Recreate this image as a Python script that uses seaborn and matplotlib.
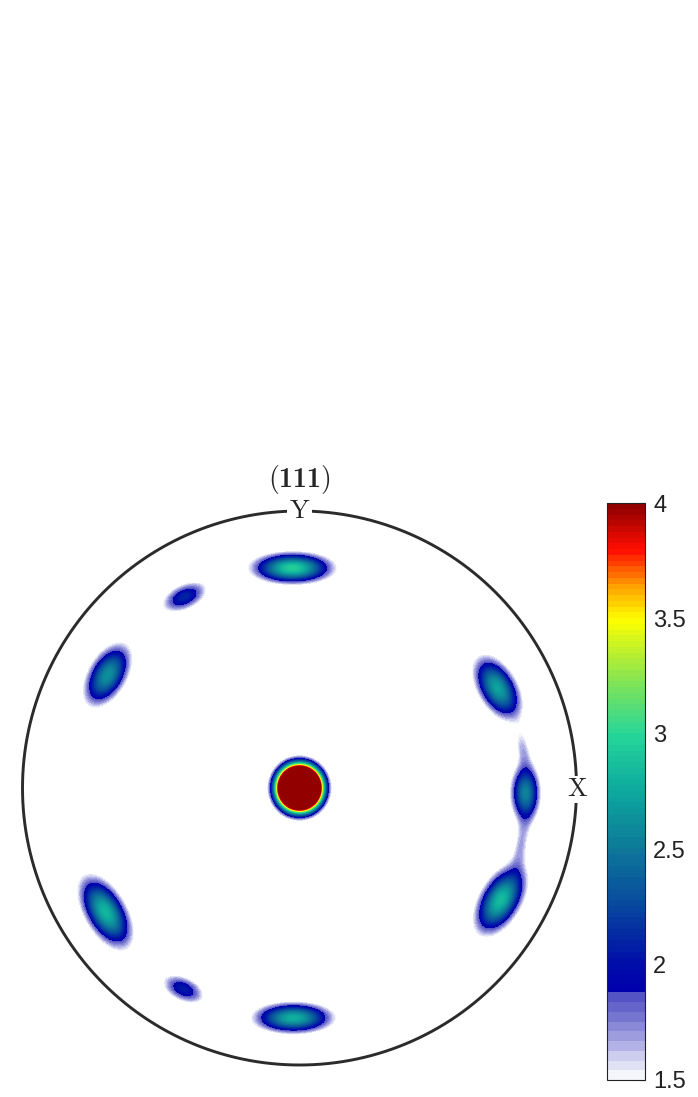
"""
(111) pole figure with a stepped jet-like colour scale.
Spots are kept as small parameter lists; the density is evaluated on a grid.
"""

import numpy as np
import matplotlib
matplotlib.use("Agg")
import matplotlib.pyplot as plt
from matplotlib.colors import LinearSegmentedColormap
import seaborn as sns

# ---------------------------------------------------------------------------
# Data (unit-disk coordinates of the pole figure)
# ---------------------------------------------------------------------------
SPOT_X    = [-0.025, -0.415, -0.693, 0.715, 0.816, 0.726, -0.700, -0.419, -0.022, 0.000, 0.800, 0.805]
SPOT_Y    = [ 0.794,  0.690,  0.408, 0.361, -0.018, -0.404, -0.448, -0.726, -0.830, 0.000, -0.200, 0.150]
SPOT_PEAK = [ 2.95,   2.10,   2.62,  2.72,  2.55,   2.85,   2.82,   2.05,   2.78,  12.6,   1.52,  1.50]
SPOT_SMAJ = [ 0.097,  0.066,  0.085, 0.085, 0.074,  0.092,  0.096,  0.062,  0.096, 0.046,  0.060, 0.050]
SPOT_SMIN = [ 0.037,  0.034,  0.046, 0.046, 0.037,  0.048,  0.048,  0.033,  0.037, 0.047,  0.020, 0.020]
SPOT_ANG  = [ 0,      25,     60,    -60,   90,     60,     -60,    -25,    0,     0,      80,    100]
BACKGROUND = 1.0

VMIN, VMAX = 1.5, 4.0
CBAR_TICKS = [1.5, 2, 2.5, 3, 3.5, 4]
TITLE      = r"$(\mathbf{111})$"
AXIS_NAMES = ["X", "Y"]

# colour scale nodes (value, rgb)
CMAP_VALUES = [1.50, 1.60, 1.70, 1.87, 1.88, 2.00, 2.25, 2.50, 2.75, 3.00, 3.25, 3.50, 3.65, 3.80, 4.00]
CMAP_COLORS = [(1.00, 1.00, 1.00), (0.80, 0.80, 0.94), (0.58, 0.58, 0.86), (0.30, 0.30, 0.76),
               (0.00, 0.00, 0.68), (0.00, 0.05, 0.66), (0.03, 0.28, 0.62), (0.05, 0.47, 0.60),
               (0.05, 0.66, 0.62), (0.15, 0.84, 0.60), (0.55, 0.90, 0.30), (1.00, 1.00, 0.00),
               (1.00, 0.60, 0.00), (1.00, 0.05, 0.00), (0.55, 0.00, 0.00)]


# ---------------------------------------------------------------------------
# Field
# ---------------------------------------------------------------------------
def density(xx, yy):
    zz = np.full_like(xx, BACKGROUND)
    for x0, y0, pk, sa, sb, ang in zip(SPOT_X, SPOT_Y, SPOT_PEAK, SPOT_SMAJ, SPOT_SMIN, SPOT_ANG):
        t  = np.deg2rad(ang)
        dx, dy = xx - x0, yy - y0
        u  = dx * np.cos(t) + dy * np.sin(t)
        v  = -dx * np.sin(t) + dy * np.cos(t)
        zz += (pk - BACKGROUND) * np.exp(-0.5 * ((u / sa) ** 2 + (v / sb) ** 2))
    return zz


def main():
    sns.set_theme(style="white")
    plt.rcParams["mathtext.fontset"] = "custom"
    plt.rcParams["mathtext.rm"] = "cmr10"
    plt.rcParams["mathtext.bf"] = "cmb10"
    plt.rcParams["mathtext.it"] = "cmmi10"
    plt.rcParams["font.family"] = ["Liberation Sans", "DejaVu Sans"]

    pos  = [(v - VMIN) / (VMAX - VMIN) for v in CMAP_VALUES]
    cmap = LinearSegmentedColormap.from_list("pf", list(zip(pos, CMAP_COLORS)))

    g = np.linspace(-1, 1, 701)
    xx, yy = np.meshgrid(g, g)
    zz = density(xx, yy)
    zz = np.where(zz < VMIN, np.nan, np.minimum(zz, VMAX))
    zz[xx ** 2 + yy ** 2 > 1.0] = np.nan

    fig = plt.figure(figsize=(6.98, 10.97), dpi=100)
    ax  = fig.add_axes([22 / 698, 1 - 1065 / 1097, 555 / 698, 554 / 1097])
    cax = fig.add_axes([607 / 698, 1 - 1080 / 1097, 38 / 698, 577 / 1097])

    levels = np.concatenate([np.linspace(VMIN, 1.88, 10), np.linspace(1.88, VMAX, 86)[1:]])
    cf = ax.contourf(xx, yy, zz, levels=levels, cmap=cmap, vmin=VMIN, vmax=VMAX)

    th = np.linspace(0, 2 * np.pi, 721)
    ax.plot(np.cos(th), np.sin(th), color="#2b2b2b", lw=2.1, clip_on=False, zorder=3)
    ax.set_xlim(-1, 1)
    ax.set_ylim(-1, 1)
    ax.set_aspect("equal")
    ax.axis("off")

    lab = dict(fontsize=19, ha="center", va="center", zorder=5,
               bbox=dict(facecolor="white", edgecolor="none", pad=1.0))
    ax.text(1.005, -0.005, r"$\mathrm{%s}$" % AXIS_NAMES[0], **lab)
    ax.text(0.0, 1.0, r"$\mathrm{%s}$" % AXIS_NAMES[1], **lab)
    ax.text(0.0, 1.112, TITLE, fontsize=20, ha="center", va="center")

    cb = fig.colorbar(cf, cax=cax, ticks=CBAR_TICKS, spacing="proportional")
    cb.ax.set_yticklabels([f"{t:g}" for t in CBAR_TICKS])
    cb.ax.tick_params(direction="in", length=4, width=0.8, labelsize=17, colors="#222222", pad=6)
    cb.outline.set_edgecolor("#222222")
    cb.outline.set_linewidth(0.8)

    fig.savefig("out.png", dpi=100, facecolor="white")
    plt.close(fig)


if __name__ == "__main__":
    main()
